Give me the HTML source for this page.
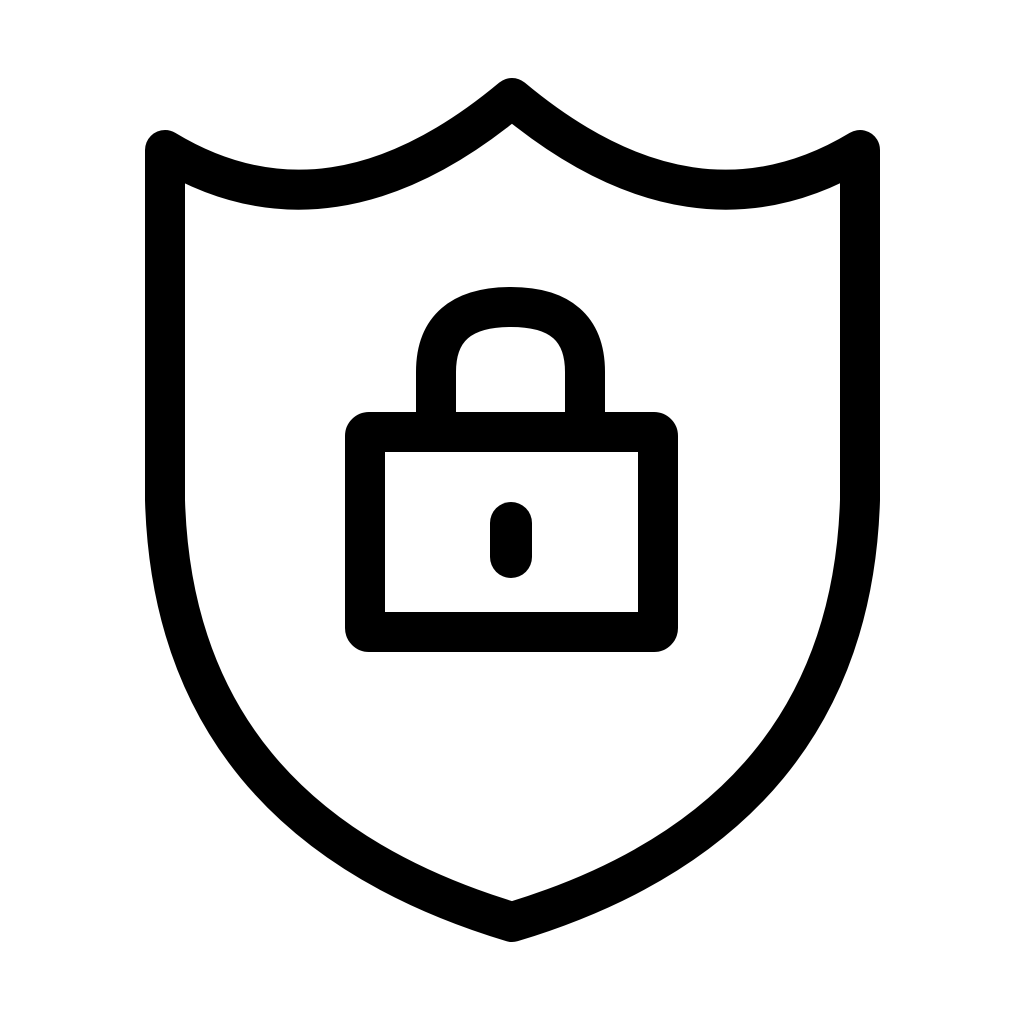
<!DOCTYPE html>
<html><head><meta charset="utf-8"><style>html,body{margin:0;padding:0;background:#fff;}svg{display:block}</style></head>
<body>
<svg width="1024" height="1024" viewBox="0 0 1024 1024" xmlns="http://www.w3.org/2000/svg">
<rect width="1024" height="1024" fill="#fff"/>
<g fill="none" stroke="#000" stroke-width="40" stroke-linecap="round" stroke-linejoin="round">
<path d="M165,150 Q330,250 512,98 Q694,250 860,150 L860,500 Q850,820 512,922 Q174,820 165,500 Z"/>
<rect x="365" y="432" width="293" height="200" rx="4"/>
<path d="M436,432 V372 Q436,307 511,307 Q585,307 585,372 V432"/>
</g>
<rect x="490" y="502" width="42" height="76" rx="21" fill="#000"/>
</svg>
</body></html>
